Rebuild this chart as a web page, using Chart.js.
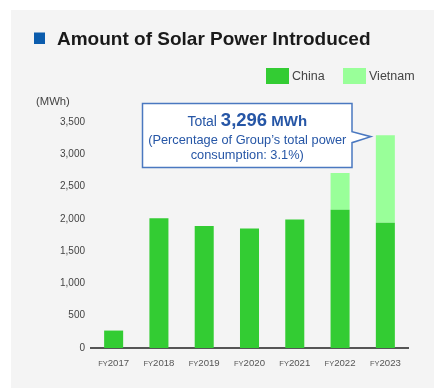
<!DOCTYPE html>
<html>
<head>
<meta charset="utf-8">
<script src="https://cdn.jsdelivr.net/npm/chart.js@4/dist/chart.umd.min.js"></script>
<style>
  body { margin: 0; background: #fff; }
  #panel { position: absolute; left: 11px; top: 10px; width: 423px; height: 378px; background: #f4f4f4; }
  #solar { position: absolute; left: 0; top: 0; }
</style>
</head>
<body>
<div id="panel"></div>
<canvas id="solar" width="434" height="389"></canvas>
<script>
var years = ['2017', '2018', '2019', '2020', '2021', '2022', '2023'];
var china = [270, 2010, 1890, 1850, 1990, 2140, 1940];
var vietnam = [0, 0, 0, 0, 0, 570, 1356];
var seriesNames = ['China', 'Vietnam'];
var seriesColors = ['#33cc33', '#99ff99'];
var yTicks = [0, 500, 1000, 1500, 2000, 2500, 3000, 3500];
var groupShare = '3.1%';

var FONT = '"Liberation Sans", Arial, Helvetica, sans-serif';
var fmt = v => v.toLocaleString('en-US');

// title, legend, unit label, FY labels and the total callout
var decorations = {
    id: 'decorations',
    afterDraw(chart) {
        var ctx = chart.ctx;
        var xs = chart.scales.x, ys = chart.scales.y;
        ctx.save();

        // heading
        ctx.fillStyle = '#0b5cad';
        ctx.fillRect(34, 32.5, 11, 11.5);
        ctx.fillStyle = '#1a1a1a';
        ctx.font = 'bold 19px ' + FONT;
        ctx.textBaseline = 'alphabetic';
        ctx.textAlign = 'left';
        ctx.fillText('Amount of Solar Power Introduced', 57, 45);

        // legend
        ctx.font = '12.5px ' + FONT;
        ctx.textBaseline = 'middle';
        var lx = [266, 343];
        seriesNames.forEach((name, i) => {
            ctx.fillStyle = seriesColors[i];
            ctx.fillRect(lx[i], 68, 23, 16);
            ctx.fillStyle = '#444';
            ctx.fillText(name, lx[i] + 26, 77);
        });

        // unit
        ctx.font = '11.3px ' + FONT;
        ctx.fillText('(MWh)', 36, 102);

        // category labels with small "FY"
        ctx.textBaseline = 'alphabetic';
        ctx.fillStyle = '#555';
        years.forEach((yr, i) => {
            var cx = xs.getPixelForValue(i);
            ctx.font = '7.5px ' + FONT;
            var w1 = ctx.measureText('FY').width;
            ctx.font = '9.6px ' + FONT;
            var w2 = ctx.measureText(yr).width;
            var x0 = cx - (w1 + w2) / 2;
            ctx.font = '7.5px ' + FONT;
            ctx.fillText('FY', x0, 365.5);
            ctx.font = '9.6px ' + FONT;
            ctx.fillText(yr, x0 + w1, 365.5);
        });

        // callout pointing at the latest bar
        var last = years.length - 1;
        var total = china[last] + vietnam[last];
        var bar = chart.getDatasetMeta(1).data[last];
        var tipX = bar.x - bar.width / 2 - 5;
        var tipY = ys.getPixelForValue(total) + 1.5;
        var L = 142.5, R = 352, T = 103.5, B = 167.5;
        ctx.beginPath();
        ctx.moveTo(L, T);
        ctx.lineTo(R, T);
        ctx.lineTo(R, tipY - 5);
        ctx.lineTo(tipX, tipY);
        ctx.lineTo(R, tipY + 6);
        ctx.lineTo(R, B);
        ctx.lineTo(L, B);
        ctx.closePath();
        ctx.fillStyle = '#fff';
        ctx.fill();
        ctx.strokeStyle = '#4a78c0';
        ctx.lineWidth = 1.5;
        ctx.stroke();

        var cx = (L + R) / 2;
        ctx.fillStyle = '#2656a6';
        var parts = [
            ['Total ', '14px ' + FONT],
            [fmt(total), 'bold 18.5px ' + FONT],
            [' MWh', 'bold 15px ' + FONT]
        ];
        var tw = 0;
        parts.forEach(p => { ctx.font = p[1]; tw += ctx.measureText(p[0]).width; });
        var px = cx - tw / 2;
        parts.forEach(p => {
            ctx.font = p[1];
            ctx.fillText(p[0], px, 126);
            px += ctx.measureText(p[0]).width;
        });
        ctx.textAlign = 'center';
        ctx.font = '12.8px ' + FONT;
        ctx.fillText('(Percentage of Group\u2019s total power', cx, 143.5);
        ctx.fillText('consumption: ' + groupShare + ')', cx, 158.5);

        ctx.restore();
    }
};

new Chart(document.getElementById('solar'), {
    type: 'bar',
    data: {
        labels: years,
        datasets: [
            { label: seriesNames[0], data: china, backgroundColor: seriesColors[0] },
            { label: seriesNames[1], data: vietnam, backgroundColor: seriesColors[1] }
        ]
    },
    options: {
        responsive: false,
        animation: false,
        layout: { padding: { left: 0, right: 26, top: 122, bottom: 41 } },
        datasets: { bar: { categoryPercentage: 1, barPercentage: 0.42 } },
        plugins: { legend: { display: false }, tooltip: { enabled: false } },
        scales: {
            x: {
                stacked: true,
                grid: { display: false },
                ticks: { display: false },
                border: { color: '#555', width: 2 },
                afterFit: s => { s.height = 0; }
            },
            y: {
                stacked: true,
                min: 0,
                max: yTicks[yTicks.length - 1],
                grid: { display: false, drawTicks: false },
                border: { display: false },
                afterBuildTicks: s => { s.ticks = yTicks.map(v => ({ value: v })); },
                ticks: {
                    padding: 6,
                    color: '#444',
                    font: { family: FONT, size: 10 },
                    callback: v => fmt(v)
                },
                afterFit: s => { s.width = 91; }
            }
        }
    },
    plugins: [decorations]
});
</script>
</body>
</html>
